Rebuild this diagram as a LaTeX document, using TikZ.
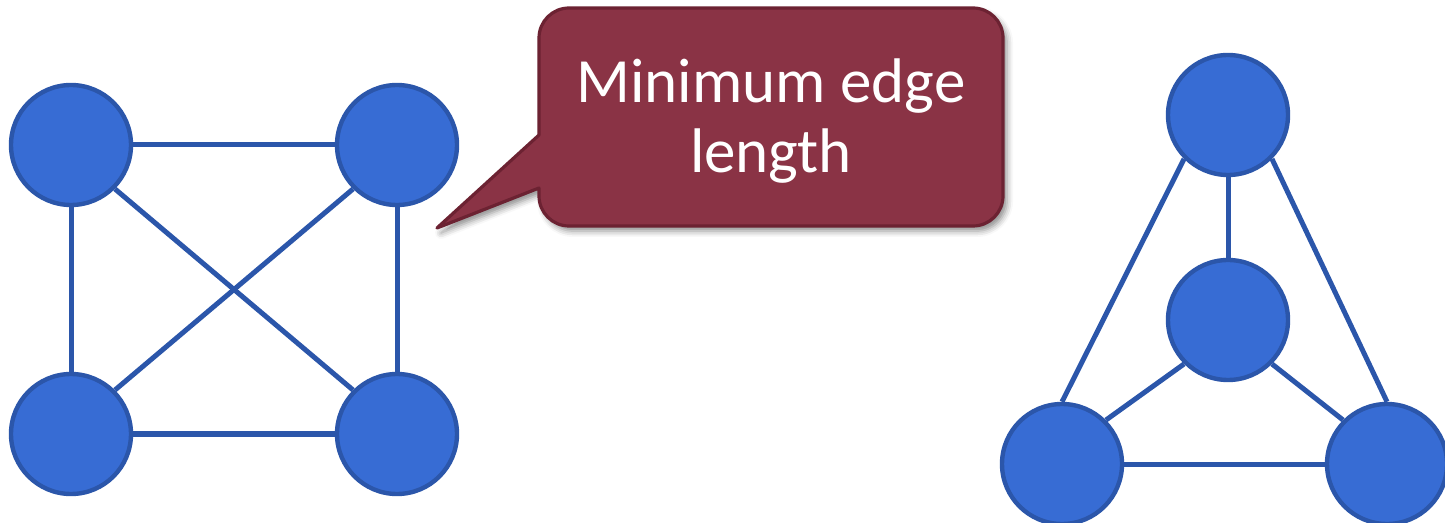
\documentclass[tikz,border=0pt]{standalone}
\usepackage{fontspec}
\setmainfont{Carlito}
\usepackage{xcolor}
\usepackage{tikz}
\usetikzlibrary{shadows.blur}
\definecolor{cblue}{HTML}{376CD4}
\definecolor{cedge}{HTML}{2B56AA}
\definecolor{cwine}{HTML}{8A3345}
\definecolor{cwinedark}{HTML}{6C2232}
\tikzset{
  vertex/.style={circle,minimum size=60pt,inner sep=0pt,fill=cblue,draw=cedge,line width=2.2pt},
  link/.style={cedge,line width=2.5pt},
  bubble/.style={fill=cwine,draw=cwinedark,line width=1.6pt,line join=round,
    blur shadow={shadow xshift=2pt,shadow yshift=-2.5pt,shadow blur radius=3pt,shadow opacity=45}}
}

\begin{document}
\begin{tikzpicture}[x=0.5pt,y=-0.5pt]
\useasboundingbox (0,0) rectangle (1445,523);

% ============ left graph: square with both diagonals ============
\node[vertex] (sqa) at (71,145) {};
\node[vertex] (sqb) at (397,145) {};
\node[vertex] (sqc) at (71,434) {};
\node[vertex] (sqd) at (397,434) {};
\draw[link] (sqa) -- (sqb);
\draw[link] (sqa) -- (sqc);
\draw[link] (sqb) -- (sqd);
\draw[link] (sqc) -- (sqd);
\draw[link] (sqa.south east) -- (sqd.north west);
\draw[link] (sqb.south west) -- (sqc.north east);

% ============ right graph: triangle with centre vertex ============
\node[vertex] (trtop) at (1228,115) {};
\node[vertex] (trmid) at (1228,320) {};
\node[vertex] (trl) at (1062,464) {};
\node[vertex] (trr) at (1387,464) {};
\draw[link] (trtop) -- (trmid);
\draw[link] (trtop.south west) -- (trl.north);
\draw[link] (trtop.south east) -- (trr.north);
\draw[link] (trmid.south west) -- (trl.north east);
\draw[link] (trmid.south east) -- (trr.north west);
\draw[link] (trl) -- (trr);

% ============ callout ============
\coordinate (tip) at (437,228);
\draw[bubble] (539,135) -- (539,38) arc[start angle=180,end angle=90,radius=15pt]
  -- (973,8) arc[start angle=90,end angle=0,radius=15pt]
  -- (1003,196) arc[start angle=0,end angle=-90,radius=15pt]
  -- (569,226) arc[start angle=270,end angle=180,radius=15pt]
  -- (539,188) -- (tip) -- cycle;
\node[text=white,align=center,font=\fontsize{31.5pt}{35pt}\selectfont] (note) at (771,121)
  {Minimum edge\\length};

\end{tikzpicture}
\end{document}
